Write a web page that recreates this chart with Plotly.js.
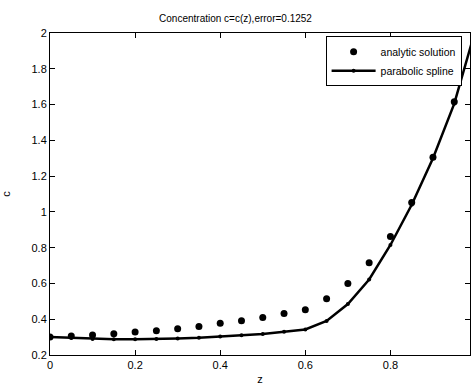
<!DOCTYPE html>
<html><head><meta charset="utf-8">
<script src="https://cdn.plot.ly/plotly-3.0.1.min.js"></script>
<style>html,body{margin:0;padding:0;overflow:hidden;background:#fff}</style>
</head><body><div id="chart" style="width:471px;height:385px"></div>
<script>
const z = [0,0.05,0.1,0.15,0.2,0.25,0.3,0.35,0.4,0.45,0.5,0.55,0.6,0.65,0.7,0.75,0.8,0.85,0.9,0.95,1.0];
const analytic = [0.300,0.306,0.312,0.319,0.328,0.336,0.347,0.360,0.377,0.392,0.410,0.432,0.453,0.515,0.600,0.716,0.862,1.052,1.305,1.615,2.00];
const spline = [0.300,0.295,0.290,0.288,0.288,0.289,0.292,0.296,0.303,0.310,0.318,0.330,0.343,0.390,0.485,0.622,0.815,1.040,1.300,1.605,2.02];
const xTicks = [0,0.2,0.4,0.6,0.8];
const yTicks = [0.2,0.4,0.6,0.8,1,1.2,1.4,1.6,1.8,2];

const font = {family:'"Liberation Sans", Arial, sans-serif', size:11, color:'#000'};
const traces = [
  {x:z, y:analytic, mode:'markers', name:'analytic solution',
   marker:{color:'#000', size:7, symbol:'circle'}},
  {x:z, y:spline, mode:'lines+markers', name:'parabolic spline',
   line:{color:'#000', width:2.5}, marker:{color:'#000', size:4}}
];
const layout = {
  width:471, height:385,
  margin:{l:50, r:1, t:33, b:30},
  paper_bgcolor:'#fff', plot_bgcolor:'#fff',
  font:font,
  showlegend:true,
  title:{text:'Concentration c=c(z),error=0.1252', font:{family:font.family,size:10,color:'#000'}, x:0.5, xanchor:'center', y:0.951, yanchor:'middle'},
  xaxis:{range:[0,0.987], tickvals:xTicks, ticktext:xTicks.map(String), ticks:'inside', ticklen:5, tickcolor:'#000',
    showline:true, linecolor:'#000', linewidth:1, mirror:'ticks', showgrid:false, zeroline:false,
    tickfont:font, title:{text:'z', font:font, standoff:14}},
  yaxis:{range:[0.2,2], tickvals:yTicks, ticktext:yTicks.map(String), ticks:'inside', ticklen:5, tickcolor:'#000',
    showline:true, linecolor:'#000', linewidth:1, mirror:'ticks', showgrid:false, zeroline:false,
    tickfont:font, title:{text:'c', font:font, standoff:18}},
  legend:{x:0.98, xanchor:'right', y:0.99, yanchor:'top', bgcolor:'#fff', bordercolor:'#000', borderwidth:1,
    font:{family:font.family, size:10.5, color:'#000'}, tracegroupgap:0, itemwidth:44}
};
Plotly.newPlot('chart', traces, layout, {displayModeBar:false, staticPlot:true});
</script></body></html>
